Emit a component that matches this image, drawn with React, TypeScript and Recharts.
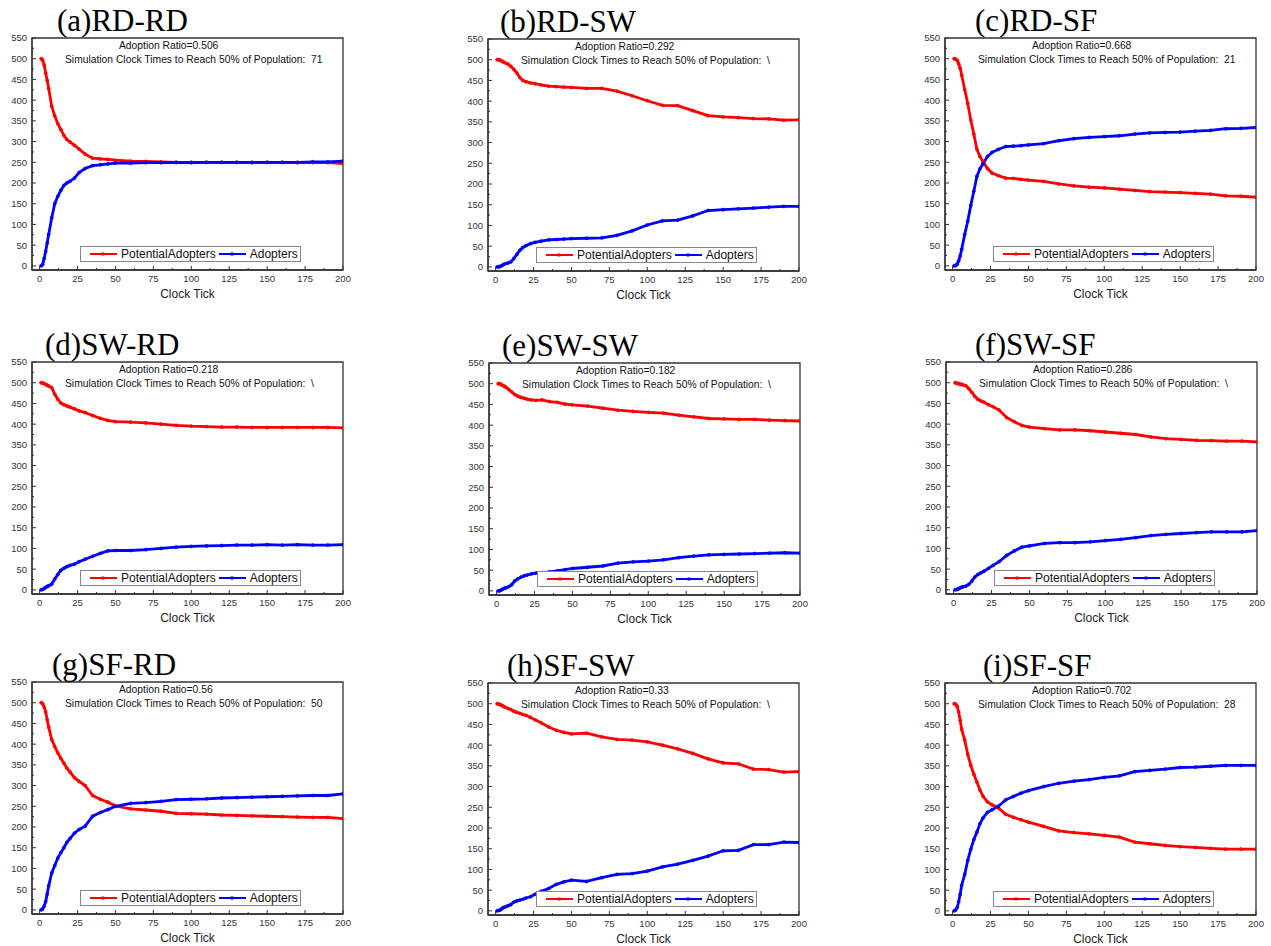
import React from "react";
import { LineChart, Line, XAxis, YAxis, Legend, ReferenceArea } from "recharts";

const TICKS = [1, 2, 3, 4, 5, 6, 8, 10, 12, 14, 16, 18, 20, 23, 26, 30, 35, 40, 45, 50, 60, 70, 80, 90, 100, 110, 120, 130, 140, 150, 160, 170, 180, 190, 200];

const X_TICKS = [0, 12.5, 25, 37.5, 50, 62.5, 75, 87.5, 100, 112.5, 125, 137.5, 150, 162.5, 175, 187.5, 200];
const Y_TICKS = [0, 25, 50, 75, 100, 125, 150, 175, 200, 225, 250, 275, 300, 325, 350, 375, 400, 425, 450, 475, 500, 525, 550];

// (a) RD-RD
const A_POT = [500, 497, 485, 465, 448, 428, 385, 362, 343, 329, 315, 305, 299, 291, 282, 270, 260, 258, 257, 255, 253, 252, 251, 250, 250, 250, 250, 250, 249, 250, 250, 249, 249, 249, 247];
const A_ADO = [0, 3, 18, 35, 55, 76, 116, 150, 168, 182, 194, 200, 204, 212, 225, 235, 242, 244, 246, 248, 248, 249, 249, 250, 249, 250, 250, 250, 250, 250, 250, 250, 251, 251, 253];
// (b) RD-SW
const B_POT = [500, 500, 499, 497, 495, 493, 490, 484, 477, 468, 457, 450, 447, 444, 442, 439, 436, 435, 434, 433, 431, 431, 424, 413, 401, 390, 389, 377, 365, 362, 360, 358, 357, 354, 355];
const B_ADO = [0, 0, 1, 3, 5, 7, 9, 12, 20, 30, 40, 47, 51, 56, 59, 62, 65, 66, 67, 68, 69, 70, 76, 87, 101, 111, 113, 123, 136, 138, 140, 142, 144, 146, 146];
// (c) RD-SF
const C_POT = [500, 499, 496, 488, 477, 460, 425, 392, 352, 318, 282, 264, 252, 235, 224, 218, 212, 211, 209, 207, 204, 198, 193, 190, 188, 185, 182, 179, 178, 177, 175, 173, 169, 168, 166];
const C_ADO = [0, 1, 4, 12, 24, 40, 76, 108, 146, 180, 216, 234, 246, 264, 274, 281, 288, 289, 290, 292, 295, 302, 307, 310, 312, 314, 318, 321, 322, 323, 325, 327, 331, 332, 334];
// (d) SW-RD
const D_POT = [500, 499, 498, 496, 494, 492, 488, 472, 460, 451, 447, 444, 441, 437, 432, 428, 421, 414, 409, 406, 405, 403, 400, 397, 395, 394, 393, 393, 392, 392, 392, 392, 392, 392, 391];
const D_ADO = [0, 1, 3, 6, 8, 10, 14, 26, 37, 47, 52, 56, 59, 62, 68, 74, 81, 88, 94, 95, 95, 97, 100, 103, 105, 106, 107, 108, 108, 109, 108, 109, 108, 108, 109];
// (e) SW-SW
const E_POT = [500, 500, 498, 496, 494, 492, 486, 480, 474, 470, 467, 465, 463, 461, 460, 461, 457, 455, 451, 449, 446, 441, 436, 433, 431, 429, 424, 420, 416, 415, 414, 414, 412, 411, 410];
const E_ADO = [0, 0, 2, 4, 6, 7, 10, 15, 24, 29, 33, 36, 38, 41, 43, 44, 46, 48, 51, 54, 57, 60, 67, 70, 72, 75, 80, 84, 87, 88, 89, 90, 91, 92, 91];
// (f) SW-SF
const F_POT = [500, 499, 498, 497, 496, 495, 493, 486, 477, 467, 460, 456, 453, 447, 442, 434, 416, 406, 397, 393, 389, 386, 386, 384, 381, 378, 375, 369, 365, 363, 361, 360, 359, 359, 357];
const F_ADO = [0, 1, 2, 4, 6, 7, 9, 13, 21, 31, 37, 41, 45, 52, 59, 68, 83, 94, 103, 106, 112, 114, 114, 116, 119, 122, 126, 131, 134, 136, 138, 140, 140, 140, 143];
// (g) SF-RD
const G_POT = [500, 498, 490, 478, 459, 441, 411, 394, 379, 366, 354, 342, 333, 319, 310, 300, 276, 267, 260, 251, 244, 241, 238, 233, 232, 231, 229, 228, 227, 226, 225, 224, 223, 223, 220];
const G_ADO = [0, 2, 9, 20, 38, 58, 89, 107, 125, 138, 150, 163, 172, 185, 194, 202, 226, 235, 242, 250, 257, 259, 262, 266, 267, 268, 270, 271, 272, 273, 274, 275, 276, 276, 280];
// (h) SF-SW
const H_POT = [500, 499, 498, 496, 494, 492, 489, 486, 482, 479, 477, 474, 472, 467, 461, 454, 444, 436, 431, 427, 429, 420, 414, 412, 408, 400, 391, 380, 367, 357, 355, 342, 341, 335, 336];
const H_ADO = [0, 1, 2, 5, 8, 9, 12, 15, 21, 24, 26, 28, 31, 34, 40, 47, 54, 64, 70, 74, 71, 80, 88, 90, 96, 106, 113, 122, 132, 145, 146, 160, 160, 166, 165];
// (i) SF-SF
const I_POT = [500, 499, 494, 480, 460, 438, 412, 378, 351, 330, 311, 292, 277, 263, 256, 249, 233, 226, 220, 214, 204, 193, 189, 186, 182, 178, 166, 162, 158, 155, 153, 151, 149, 149, 149];
const I_ADO = [0, 2, 8, 22, 40, 62, 88, 122, 149, 172, 190, 210, 224, 238, 244, 252, 268, 276, 284, 290, 300, 308, 313, 317, 322, 326, 336, 339, 342, 346, 347, 349, 351, 351, 351];

const PANELS = [
  { title: "(a)RD-RD", ratio: "0.506", reach: "71", potential: A_POT, adopters: A_ADO, left: 32, top: 38, titleDx: 25 },
  { title: "(b)RD-SW", ratio: "0.292", reach: "\\", potential: B_POT, adopters: B_ADO, left: 488, top: 39, titleDx: 12 },
  { title: "(c)RD-SF", ratio: "0.668", reach: "21", potential: C_POT, adopters: C_ADO, left: 945, top: 38, titleDx: 30 },
  { title: "(d)SW-RD", ratio: "0.218", reach: "\\", potential: D_POT, adopters: D_ADO, left: 32, top: 362, titleDx: 13 },
  { title: "(e)SW-SW", ratio: "0.182", reach: "\\", potential: E_POT, adopters: E_ADO, left: 489, top: 363, titleDx: 13 },
  { title: "(f)SW-SF", ratio: "0.286", reach: "\\", potential: F_POT, adopters: F_ADO, left: 946, top: 362, titleDx: 29 },
  { title: "(g)SF-RD", ratio: "0.56", reach: "50", potential: G_POT, adopters: G_ADO, left: 32, top: 682, titleDx: 20 },
  { title: "(h)SF-SW", ratio: "0.33", reach: "\\", potential: H_POT, adopters: H_ADO, left: 488, top: 683, titleDx: 19 },
  { title: "(i)SF-SF", ratio: "0.702", reach: "28", potential: I_POT, adopters: I_ADO, left: 945, top: 683, titleDx: 38 },
];

const SANS = '"Liberation Sans", Arial, sans-serif';
const SERIF = '"Liberation Serif", "Times New Roman", serif';
const AXIS = "#333";
const RED = "#ff0000";
const BLUE = "#0000ff";
const LEGEND_ORDER = ["potential", "adopters"];

const PLOT_W = 311;
const PLOT_H = 232;
const Y_AXIS_W = 40;
const MARGIN_TOP = 6;
const MARGIN_RIGHT = 10;
const X_AXIS_H = 34;

// origin-style inward ticks: long on labelled values, short in between
function XTick(props: any) {
  const { x, y, payload } = props;
  const axisY = y - 5;
  const major = payload.value % 25 === 0;
  return (
    <g>
      <line x1={x} x2={x} y1={axisY} y2={axisY - (major ? 4 : 2)} stroke={AXIS} strokeWidth={1} />
      {major && (
        <text x={x} y={axisY + 5} dy="0.71em" textAnchor="middle" fontSize={9.5} fontFamily={SANS} fill={AXIS}>
          {payload.value}
        </text>
      )}
    </g>
  );
}

function YTick(props: any) {
  const { x, y, payload } = props;
  const axisX = x + 5;
  const major = payload.value % 50 === 0;
  return (
    <g>
      <line x1={axisX} x2={axisX + (major ? 4 : 2)} y1={y} y2={y} stroke={AXIS} strokeWidth={1} />
      {major && (
        <text x={axisX - 5} y={y} dy="0.355em" textAnchor="end" fontSize={9.5} fontFamily={SANS} fill={AXIS}>
          {payload.value}
        </text>
      )}
    </g>
  );
}

function LegendBox({ payload }: any) {
  const items = [...(payload ?? [])].sort(
    (a: any, b: any) => LEGEND_ORDER.indexOf(a.dataKey) - LEGEND_ORDER.indexOf(b.dataKey)
  );
  return (
    <div
      style={{
        boxSizing: "border-box",
        width: 221,
        height: 16,
        border: "1px solid #888",
        background: "#fff",
        display: "flex",
        alignItems: "center",
        paddingLeft: 9,
        fontFamily: SANS,
        fontSize: 12,
        color: "#111",
        whiteSpace: "nowrap",
        lineHeight: "14px",
      }}
    >
      {items.map((p: any, i: number) => (
        <span key={i} style={{ display: "flex", alignItems: "center", marginLeft: i ? 3 : 0 }}>
          <svg width={27} height={8}>
            <line x1={0} y1={4} x2={27} y2={4} stroke={p.color} strokeWidth={2} />
            <rect x={11.5} y={2.5} width={3} height={3} fill={p.color} />
          </svg>
          <span style={{ marginLeft: 4 }}>{p.value}</span>
        </span>
      ))}
    </div>
  );
}

function Panel({ title, ratio, reach, potential, adopters, left, top, titleDx }: any) {
  const rows = TICKS.map((t, i) => ({ tick: t, potential: potential[i], adopters: adopters[i] }));
  return (
    <div style={{ position: "absolute", left: left - Y_AXIS_W, top: top - MARGIN_TOP }}>
      <LineChart
        width={Y_AXIS_W + PLOT_W + MARGIN_RIGHT}
        height={MARGIN_TOP + PLOT_H + X_AXIS_H}
        data={rows}
        margin={{ top: MARGIN_TOP, right: MARGIN_RIGHT, bottom: 0, left: 0 }}
      >
        <XAxis
          type="number"
          dataKey="tick"
          domain={[-5, 200]}
          ticks={X_TICKS}
          interval={0}
          allowDataOverflow
          tickLine={false}
          tickSize={0}
          tickMargin={5}
          tick={<XTick />}
          axisLine={{ stroke: AXIS, strokeWidth: 1.3 }}
          height={X_AXIS_H}
          label={{
            value: "Clock Tick",
            position: "insideBottom",
            offset: 6,
            style: { fontSize: 12, fontFamily: SANS, fill: "#222" },
          }}
        />
        <YAxis
          type="number"
          domain={[-10, 550]}
          ticks={Y_TICKS}
          interval={0}
          allowDataOverflow
          tickLine={false}
          tickSize={0}
          tickMargin={5}
          tick={<YTick />}
          axisLine={{ stroke: AXIS, strokeWidth: 1.3 }}
          width={Y_AXIS_W}
        />
        <ReferenceArea x1={-5} x2={200} y1={-10} y2={550} fill="none" stroke={AXIS} strokeWidth={1.3} />
        <Line
          type="linear"
          dataKey="potential"
          name="PotentialAdopters"
          stroke={RED}
          strokeWidth={2.8}
          dot={{ r: 1.6, fill: RED, stroke: RED, strokeWidth: 0.5 }}
          activeDot={false}
          isAnimationActive={false}
        />
        <Line
          type="linear"
          dataKey="adopters"
          name="Adopters"
          stroke={BLUE}
          strokeWidth={2.8}
          dot={{ r: 1.6, fill: BLUE, stroke: BLUE, strokeWidth: 0.5 }}
          activeDot={false}
          isAnimationActive={false}
        />
        <Legend
          layout="vertical"
          align="center"
          verticalAlign="middle"
          wrapperStyle={{ left: Y_AXIS_W + 48, top: MARGIN_TOP + 208, width: 221, height: 16 }}
          content={LegendBox}
        />
      </LineChart>
      <div
        style={{
          position: "absolute",
          left: Y_AXIS_W + titleDx,
          top: MARGIN_TOP - 7 - 26,
          fontFamily: SERIF,
          fontSize: 31,
          lineHeight: "31px",
          color: "#000",
          whiteSpace: "nowrap",
        }}
      >
        {title}
      </div>
      <div
        style={{
          position: "absolute",
          left: Y_AXIS_W + 87,
          top: MARGIN_TOP + 1,
          fontFamily: SANS,
          fontSize: 10.3,
          lineHeight: "13px",
          color: "#111",
          whiteSpace: "pre",
        }}
      >
        {"Adoption Ratio=" + ratio}
      </div>
      <div
        style={{
          position: "absolute",
          left: Y_AXIS_W + 33,
          top: MARGIN_TOP + 14.5,
          fontFamily: SANS,
          fontSize: 10.3,
          lineHeight: "13px",
          color: "#111",
          whiteSpace: "pre",
        }}
      >
        {"Simulation Clock Times to Reach 50% of Population:  " + reach}
      </div>
    </div>
  );
}

export default function App() {
  return (
    <div
      style={{
        position: "absolute",
        left: 0,
        top: 0,
        width: 1271,
        height: 946,
        overflow: "hidden",
        background: "#fff",
      }}
    >
      {PANELS.map((p) => (
        <Panel key={p.title} {...p} />
      ))}
    </div>
  );
}
